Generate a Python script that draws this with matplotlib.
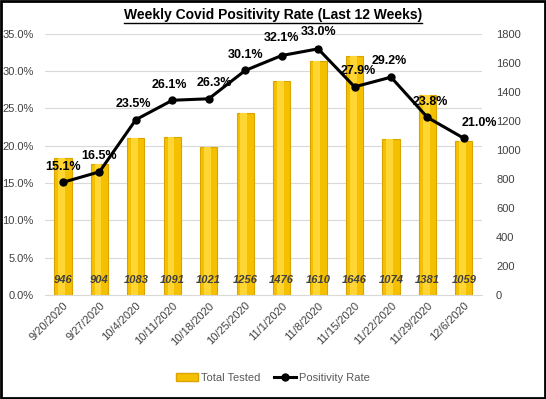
import numpy as np
import matplotlib.pyplot as plt
from matplotlib.lines import Line2D
from matplotlib.patches import Patch
import matplotlib.transforms as mtransforms

weeks = ["9/20/2020", "9/27/2020", "10/4/2020", "10/11/2020", "10/18/2020", "10/25/2020",
         "11/1/2020", "11/8/2020", "11/15/2020", "11/22/2020", "11/29/2020", "12/6/2020"]
total_tested = [946, 904, 1083, 1091, 1021, 1256, 1476, 1610, 1646, 1074, 1381, 1059]
positivity = [15.1, 16.5, 23.5, 26.1, 26.3, 30.1, 32.1, 33.0, 27.9, 29.2, 23.8, 21.0]

# label offsets (points) for the percentage labels
pct_offsets = [(0, 7), (0, 7), (-2, 7), (-2, 7), (4, 7), (0, 7),
               (0, 8), (0, 8), (3, 7), (-1, 7), (2, 7), (11, 7)]

plt.rcParams['font.family'] = ['Liberation Sans', 'DejaVu Sans']

fig = plt.figure(figsize=(5.46, 3.99), dpi=100)
ax = fig.add_axes([0.082, 0.261, 0.801, 0.654])
ax2 = ax.twinx()

x = np.arange(len(weeks))
w = 0.47
ax2.bar(x, total_tested, width=w, color='#F5C000', edgecolor='#D9A400', linewidth=0.8, zorder=2)
ax2.bar(x - w * 0.08, total_tested, width=w * 0.4, color='#FFD633', linewidth=0, zorder=2)
ax2.set_ylim(0, 1800)
ax2.set_yticks(np.arange(0, 1801, 200))

trans = mtransforms.blended_transform_factory(ax2.transData, ax2.transAxes)
for xi, v in zip(x, total_tested):
    ax2.text(xi, 0.058, str(v), transform=trans, ha='center', va='center',
             fontsize=8, fontweight='bold', style='italic', color='#404040', zorder=3)

ax.set_zorder(ax2.get_zorder() + 1)
ax.patch.set_visible(False)
ax.plot(x, positivity, color='black', linewidth=2.2, marker='o', markersize=5, zorder=4)
for xi, v, off in zip(x, positivity, pct_offsets):
    ax.annotate(f"{v:.1f}%", (xi, v), xytext=off, textcoords='offset points',
                ha='center', va='bottom', fontsize=9, fontweight='bold', color='black')

ax.set_ylim(0, 35)
ax.set_yticks(np.arange(0, 36, 5))
ax.set_yticklabels([f"{t:.1f}%" for t in np.arange(0, 36, 5)])
ax.set_xlim(-0.5, len(weeks) - 0.5)
ax.set_xticks(x)
ax.set_xticklabels(weeks, rotation=45, ha='right', rotation_mode='anchor')

for t in np.arange(5, 36, 5):
    ax2.axhline(t / 35 * 1800, color='#D9D9D9', linewidth=0.8, zorder=0)

for a in (ax, ax2):
    for s in a.spines.values():
        s.set_visible(False)
    a.tick_params(length=0, labelsize=8, labelcolor='#404040')
ax.spines['bottom'].set_visible(True)
ax.spines['bottom'].set_color('#D9D9D9')
ax.tick_params(axis='x', pad=4)
ax.tick_params(axis='y', pad=8)
ax2.tick_params(axis='y', pad=10)

title = fig.text(0.5, 0.963, "Weekly Covid Positivity Rate (Last 12 Weeks)", ha='center', va='center',
                 fontsize=10, fontweight='bold')
fig.canvas.draw()
bb = title.get_window_extent().transformed(fig.transFigure.inverted())
fig.add_artist(Line2D([bb.x0, bb.x1], [bb.y0 - 0.004, bb.y0 - 0.004], color='black', linewidth=1))

handles = [Patch(facecolor='#F5C000', edgecolor='#D9A400'),
           Line2D([], [], color='black', linewidth=2.2, marker='o', markersize=5)]
fig.legend(handles, ["Total Tested", "Positivity Rate"], loc='center', bbox_to_anchor=(0.5, 0.052),
           ncol=2, frameon=False, fontsize=8, labelcolor='#595959', handletextpad=0.3,
           columnspacing=1.2)

fig.add_artist(plt.Rectangle((0.002, 0.003), 0.996, 0.994, transform=fig.transFigure,
                             fill=False, edgecolor='black', linewidth=2))

fig.savefig("out.png", dpi=100)
